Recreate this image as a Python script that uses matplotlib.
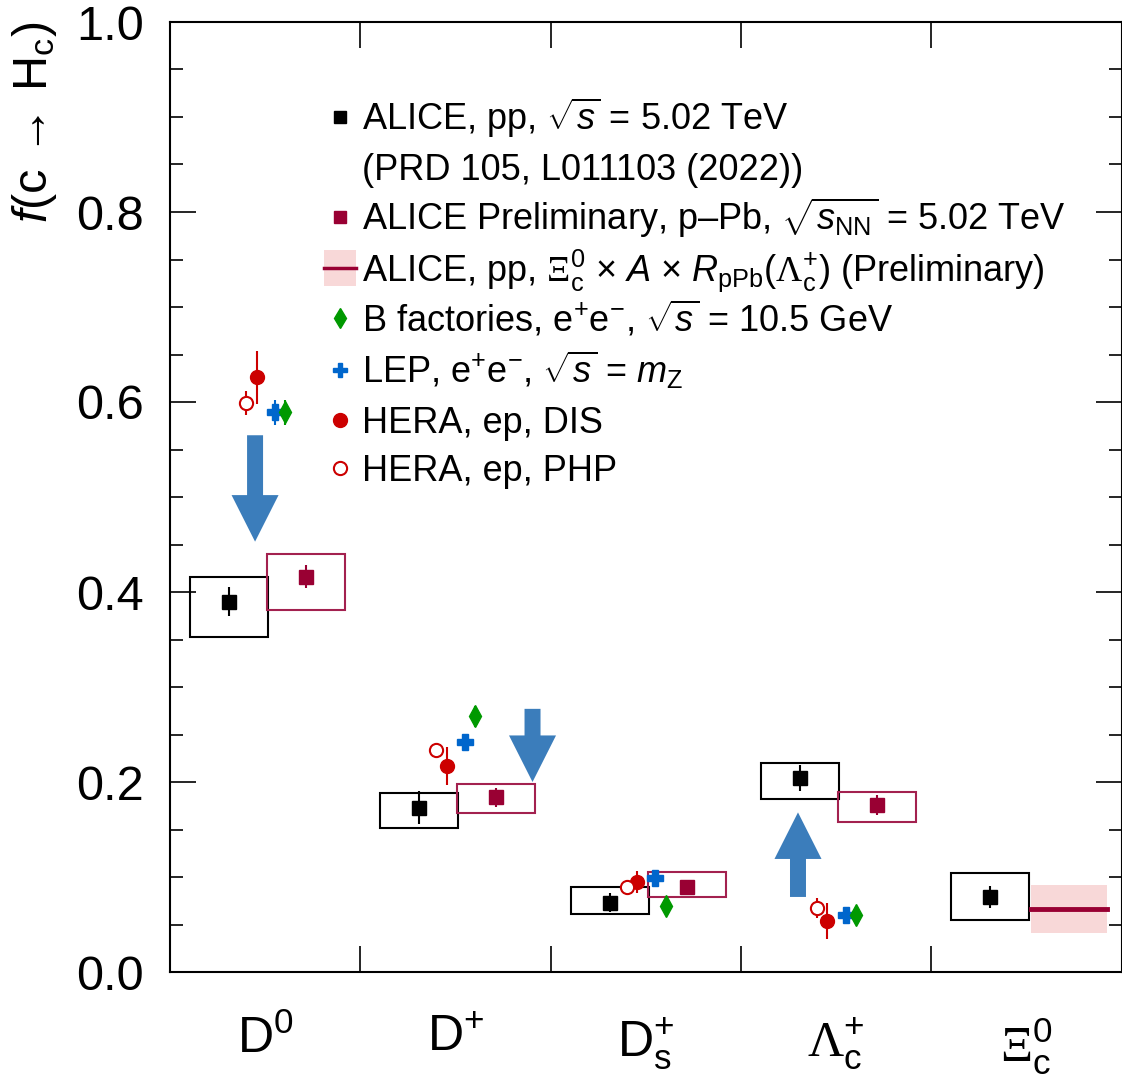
import matplotlib
matplotlib.use('Agg')
import matplotlib.pyplot as plt
from matplotlib.patches import Rectangle, FancyArrow
import numpy as np

plt.rcParams['font.family'] = ['Liberation Sans', 'DejaVu Sans']
plt.rcParams['mathtext.fontset'] = 'custom'
plt.rcParams['mathtext.rm'] = 'Liberation Sans'
plt.rcParams['mathtext.it'] = 'Liberation Sans:italic'
plt.rcParams['mathtext.sf'] = 'Liberation Serif'

# 数据：各粲强子的碎裂份额
hadrons = ['D$^{0}$', 'D$^{+}$', 'D$_{\\mathrm{s}}^{+}$',
           '$\\mathsf{\\Lambda}_{\\mathrm{c}}^{+}$', '$\\mathsf{\\Xi}_{\\mathrm{c}}^{0}$']

# ALICE pp 5.02 TeV
pp_val = [0.390, 0.173, 0.073, 0.204, 0.079]
pp_stat = [0.0155, 0.0175, 0.010, 0.0135, 0.012]
pp_syst_lo = [0.353, 0.152, 0.061, 0.182, 0.055]
pp_syst_hi = [0.416, 0.188, 0.090, 0.220, 0.104]

# ALICE Preliminary p-Pb (D0, D+, Ds+, Lc+)
ppb_val = [0.416, 0.184, 0.0895, 0.176]
ppb_stat = [0.012, 0.010, 0.005, 0.0105]
ppb_syst_lo = [0.381, 0.167, 0.079, 0.158]
ppb_syst_hi = [0.440, 0.198, 0.105, 0.189]

# Xi_c0 x A x RpPb(Lc+)
xic_val = 0.0663
xic_lo = 0.041
xic_hi = 0.0916

# 其他实验 (D0, D+, Ds+, Lc+)
hera_dis_val = [0.626, 0.217, 0.0947, 0.0537]
hera_dis_err = [0.028, 0.020, 0.012, 0.019]
hera_php_val = [0.599, 0.234, 0.0895, 0.0674]
hera_php_err = [0.0125, 0.0055, 0.004, 0.0105]
lep_val = [0.589, 0.242, 0.099, 0.060]
lep_err = [0.013, 0.006, 0.004, 0.004]
bfac_val = [0.589, 0.269, 0.0695, 0.060]
bfac_err = [0.013, 0.011, 0.003, 0.003]

# 箭头 (x, y起点, y终点)
arrows = [(0.447, 0.565, 0.453), (1.905, 0.277, 0.200), (3.300, 0.079, 0.168)]

c_black = 'black'
c_maroon = '#990033'
c_maroon_box = '#A3214F'
c_band = '#F8D8D8'
c_red = '#CC0000'
c_blue = '#0066CC'
c_green = '#009900'
c_arrow = '#3B7DBB'

fig = plt.figure(figsize=(11.22, 10.81), dpi=100)
ax = fig.add_axes([170 / 1122, 109 / 1081, 951.5 / 1122, 950 / 1081])

idx = np.arange(len(hadrons))
half = 0.205

# 系统误差框
x_pp = idx + 0.31
for x, lo, hi in zip(x_pp, pp_syst_lo, pp_syst_hi):
    ax.add_patch(Rectangle((x - half, lo), 2 * half, hi - lo, fill=False,
                           edgecolor=c_black, lw=1.5, zorder=2))
x_ppb = idx[:4] + 0.715
for x, lo, hi in zip(x_ppb, ppb_syst_lo, ppb_syst_hi):
    ax.add_patch(Rectangle((x - half, lo), 2 * half, hi - lo, fill=False,
                           edgecolor=c_maroon_box, lw=1.5, zorder=2))
x_xic = 4 + 0.725
ax.add_patch(Rectangle((x_xic - 0.2, xic_lo), 0.4, xic_hi - xic_lo,
                       facecolor=c_band, edgecolor='none', zorder=1))
ax.plot([x_xic - 0.2, x_xic + 0.2], [xic_val, xic_val], color=c_maroon, lw=3.5, zorder=3)

# 数据点
ax.errorbar(x_pp, pp_val, yerr=pp_stat, fmt='s', color=c_black, ms=9.5, lw=1.5, zorder=4)
ax.errorbar(x_ppb, ppb_val, yerr=ppb_stat, fmt='s', color=c_maroon, ms=9.5, lw=1.5, zorder=4)
ax.errorbar(idx[:4] + 0.455, hera_dis_val, yerr=hera_dis_err, fmt='o', color=c_red,
            ms=10, lw=1.5, zorder=4)
ax.errorbar(idx[:4] + 0.40, hera_php_val, yerr=hera_php_err, fmt='o', color=c_red,
            mfc='white', mec=c_red, mew=1.5, ms=9.5, lw=1.5, zorder=4)
ax.errorbar(idx[:4] + 0.55, lep_val, yerr=lep_err, fmt='P', color=c_blue,
            ms=11, lw=1.5, zorder=4)
ax.errorbar(idx[:4] + 0.605, bfac_val, yerr=bfac_err, fmt='d', color=c_green,
            ms=11, lw=1.5, zorder=4)

# 箭头
for x, y0, y1 in arrows:
    ax.add_patch(FancyArrow(x, y0, 0, y1 - y0, width=0.084, head_width=0.247,
                            head_length=0.049, length_includes_head=True,
                            color=c_arrow, lw=0, zorder=3))

# 坐标轴
ax.set_xlim(0, 5)
ax.set_ylim(0, 1)
ax.set_xticks(np.arange(0, 6))
ax.set_xticklabels([])
ax.set_xticks(idx + 0.5, minor=True)
ax.set_xticklabels(hadrons, minor=True, fontsize=36)
ax.set_yticks(np.arange(0, 1.01, 0.2))
ax.set_yticklabels(['%.1f' % v for v in np.arange(0, 1.01, 0.2)], fontsize=35)
ax.set_yticks(np.arange(0, 1.001, 0.05), minor=True)
ax.tick_params(axis='y', which='both', direction='in', left=True, right=True, width=1.2)
ax.tick_params(axis='y', which='major', length=19, pad=19)
ax.tick_params(axis='y', which='minor', length=9.5)
ax.tick_params(axis='x', which='major', direction='in', top=True, bottom=True,
               length=19, width=1.2)
ax.tick_params(axis='x', which='minor', length=0, pad=31)
for sp in ax.spines.values():
    sp.set_linewidth(1.5)
ax.set_ylabel('$f$(c$\\,\\rightarrow\\,$H$_{\\mathrm{c}}$)', fontsize=35, loc='top', labelpad=12)

# 图例
def px2ax(y):
    return (972 - y) / 950

leg_mx = (340 - 170) / 951.5
leg_tx = (362 - 170) / 951.5
leg_fs = 26
base_off = 13 / 950
entries = [
    (117, 'ALICE, pp, $\\sqrt{s}$ = 5.02 TeV'),
    (167, '(PRD 105, L011103 (2022))'),
    (217, 'ALICE Preliminary, p\u2013Pb, $\\sqrt{s_{\\mathrm{NN}}}$ = 5.02 TeV'),
    (268, 'ALICE, pp, $\\mathsf{\\Xi}_{\\mathrm{c}}^{0}$ $\\times$ $A$ $\\times$ '
          '$R_{\\mathrm{pPb}}(\\mathsf{\\Lambda}_{\\mathrm{c}}^{+})$ (Preliminary)'),
    (318, 'B factories, e$^{+}$e$^{-}$, $\\sqrt{s}$ = 10.5 GeV'),
    (370, 'LEP, e$^{+}$e$^{-}$, $\\sqrt{s}$ = $m_{\\mathrm{Z}}$'),
    (420, 'HERA, ep, DIS'),
    (468, 'HERA, ep, PHP'),
]
for y, txt in entries:
    ax.text(leg_tx, px2ax(y) - base_off, txt, transform=ax.transAxes,
            fontsize=leg_fs, va='baseline', ha='left')

kw = dict(transform=ax.transAxes, clip_on=False, linestyle='none')
ax.plot(leg_mx, px2ax(117), 's', color=c_black, ms=8.5, **kw)
ax.plot(leg_mx, px2ax(217), 's', color=c_maroon, ms=8.5, **kw)
ax.add_patch(Rectangle((leg_mx - 16 / 951.5, px2ax(286)), 32 / 951.5, 36 / 950,
                       transform=ax.transAxes, facecolor=c_band, edgecolor='none'))
ax.plot([leg_mx - 16 / 951.5, leg_mx + 16 / 951.5], [px2ax(268)] * 2, color=c_maroon,
        lw=2.5, transform=ax.transAxes)
ax.plot(leg_mx, px2ax(318), 'd', color=c_green, ms=10, **kw)
ax.plot(leg_mx, px2ax(370), 'P', color=c_blue, ms=10, **kw)
ax.plot(leg_mx, px2ax(420), 'o', color=c_red, ms=10, **kw)
ax.plot(leg_mx, px2ax(468), 'o', color=c_red, mfc='white', mew=1.5, ms=9.5, **kw)

fig.savefig('out.png', dpi=100)
